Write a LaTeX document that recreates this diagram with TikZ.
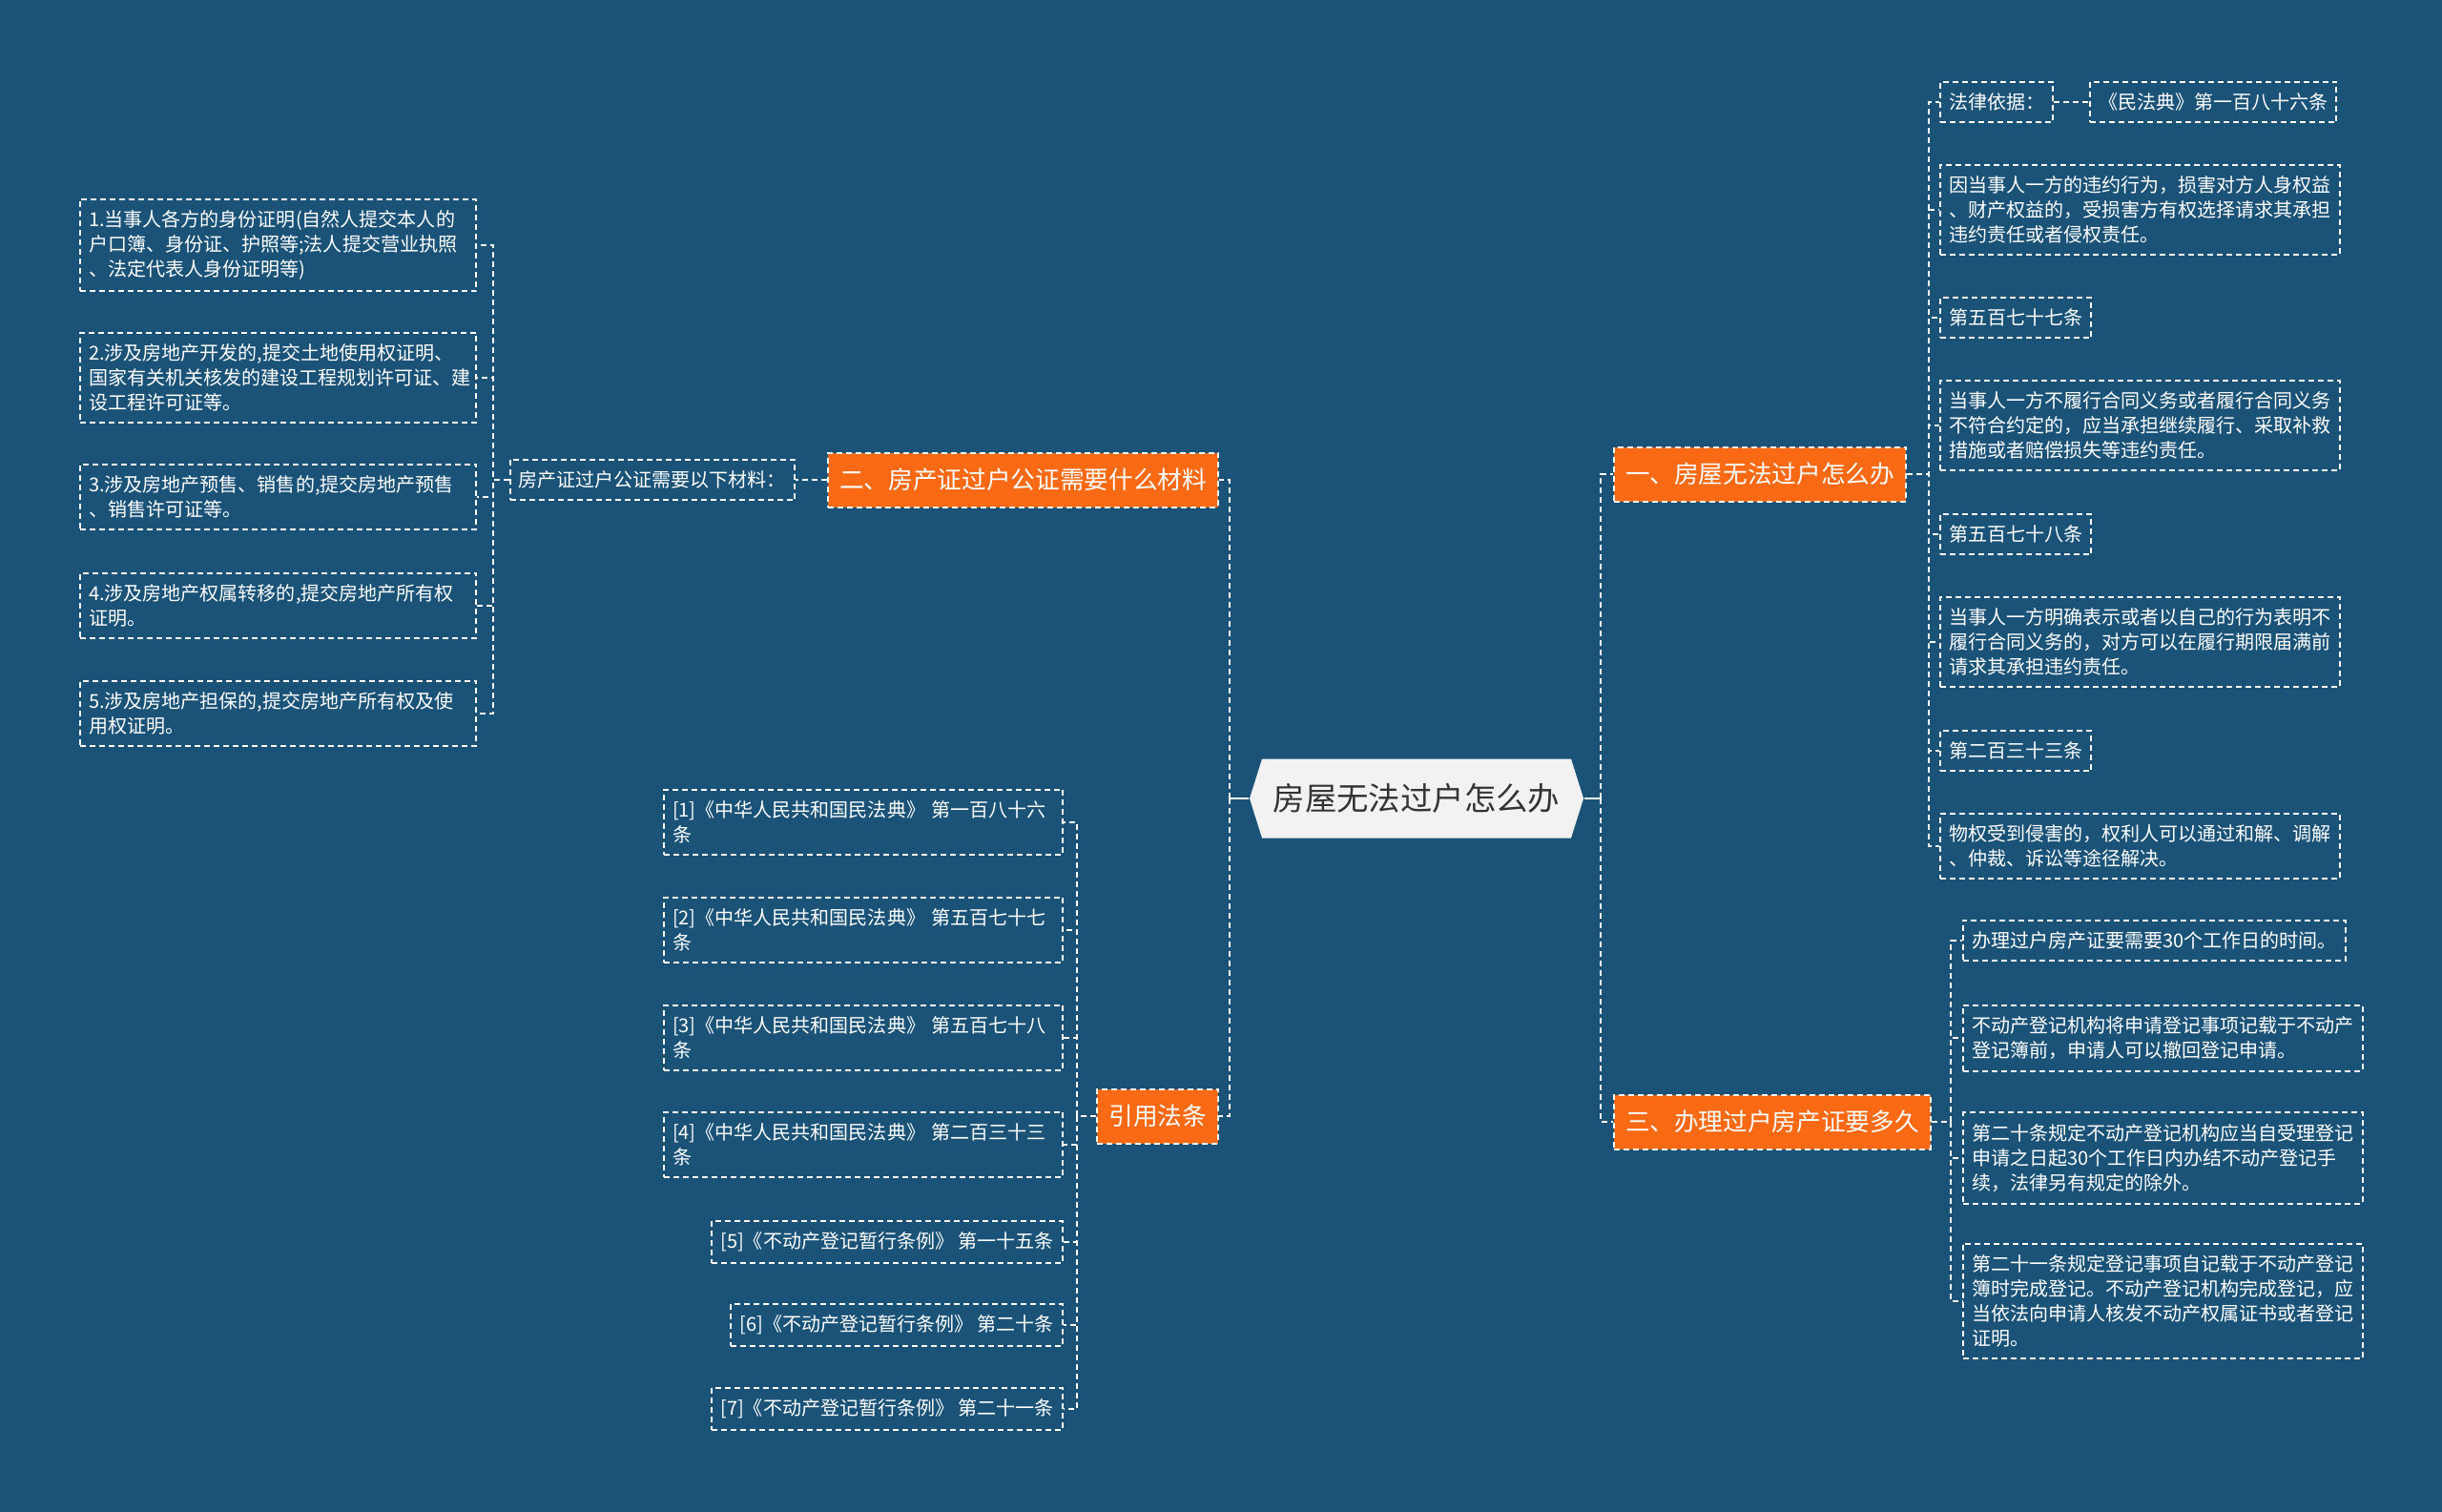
\documentclass[tikz,border=0pt]{standalone}
\usepackage{fontspec}
\setmainfont{Noto Sans CJK SC}
\usetikzlibrary{positioning,shapes.symbols}
\definecolor{mapbg}{RGB}{27,83,120}
\definecolor{maporange}{RGB}{250,105,20}
\definecolor{rootfill}{RGB}{242,242,242}
\definecolor{roottext}{RGB}{51,51,51}
\newcommand{\leaffont}{\fontsize{5.7pt}{7.4pt}\selectfont}
\newcommand{\branchfont}{\fontsize{7.3pt}{9pt}\selectfont}
\newcommand{\rootfont}{\fontsize{9.5pt}{11pt}\selectfont}

\begin{document}
\begin{tikzpicture}[
    leaf/.style={draw=white,line width=0.02cm,dash pattern=on 0.06cm off 0.04cm,text=white,font=\leaffont,align=left,inner xsep=0.09cm,inner ysep=0.12cm},
    wideleaf/.style={leaf,text width=3.97cm},
    branch/.style={draw=white,fill=maporange,line width=0.02cm,dash pattern=on 0.06cm off 0.04cm,text=white,font=\branchfont,inner xsep=0.12cm,minimum height=0.57cm},
    link/.style={draw=white,line width=0.02cm,dash pattern=on 0.06cm off 0.04cm},
    stub/.style={draw=white,line width=0.02cm}]
    \fill[mapbg] (0,0) rectangle (25.6,-15.85);
    \useasboundingbox (0,0) rectangle (25.6,-15.85);
    % Root
    \node[signal,signal to=west and east,signal pointer angle=145,fill=rootfill,text=roottext,font=\rootfont,minimum width=3.4cm,minimum height=0.83cm] (root) at (14.85,-8.37) {房屋无法过户怎么办};
    % Branches
    \node[branch,anchor=west] (one)   at (16.91,-4.97)  {一、房屋无法过户怎么办};
    \node[branch,anchor=west] (three) at (16.91,-11.76) {三、办理过户房产证要多久};
    \node[branch,anchor=east] (two)   at (12.78,-5.03)  {二、房产证过户公证需要什么材料};
    \node[branch,anchor=east] (laws)  at (12.78,-11.70) {引用法条};
    % Branch one
    \node[leaf,anchor=west] (r1)  at (20.33,-1.07) {法律依据：};
    \node[leaf,anchor=west] (r1b) at (21.90,-1.07) {《民法典》第一百八十六条};
    \node[leaf,anchor=west] (r2)  at (20.33,-2.20) {因当事人一方的违约行为，损害对方人身权益\\、财产权益的，受损害方有权选择请求其承担\\违约责任或者侵权责任。};
    \node[leaf,anchor=west] (r3)  at (20.33,-3.33) {第五百七十七条};
    \node[leaf,anchor=west] (r4)  at (20.33,-4.46) {当事人一方不履行合同义务或者履行合同义务\\不符合约定的，应当承担继续履行、采取补救\\措施或者赔偿损失等违约责任。};
    \node[leaf,anchor=west] (r5)  at (20.33,-5.60) {第五百七十八条};
    \node[leaf,anchor=west] (r6)  at (20.33,-6.73) {当事人一方明确表示或者以自己的行为表明不\\履行合同义务的，对方可以在履行期限届满前\\请求其承担违约责任。};
    \node[leaf,anchor=west] (r7)  at (20.33,-7.87) {第二百三十三条};
    \node[leaf,anchor=west] (r8)  at (20.33,-8.87) {物权受到侵害的，权利人可以通过和解、调解\\、仲裁、诉讼等途径解决。};
    % Branch three
    \node[leaf,anchor=west] (t1) at (20.57,-9.86)  {办理过户房产证要需要30个工作日的时间。};
    \node[leaf,anchor=west] (t2) at (20.57,-10.88) {不动产登记机构将申请登记事项记载于不动产\\登记簿前，申请人可以撤回登记申请。};
    \node[leaf,anchor=west] (t3) at (20.57,-12.14) {第二十条规定不动产登记机构应当自受理登记\\申请之日起30个工作日内办结不动产登记手\\续，法律另有规定的除外。};
    \node[leaf,anchor=west] (t4) at (20.57,-13.64) {第二十一条规定登记事项自记载于不动产登记\\簿时完成登记。不动产登记机构完成登记，应\\当依法向申请人核发不动产权属证书或者登记\\证明。};
    % Branch two
    \node[leaf,anchor=east] (need) at (8.34,-5.03) {房产证过户公证需要以下材料：};
    \node[wideleaf,anchor=east] (m1) at (5.00,-2.57) {1.当事人各方的身份证明(自然人提交本人的\\户口簿、身份证、护照等;法人提交营业执照\\、法定代表人身份证明等)};
    \node[wideleaf,anchor=east] (m2) at (5.00,-3.96) {2.涉及房地产开发的,提交土地使用权证明、\\国家有关机关核发的建设工程规划许可证、建\\设工程许可证等。};
    \node[wideleaf,anchor=east] (m3) at (5.00,-5.21) {3.涉及房地产预售、销售的,提交房地产预售\\、销售许可证等。};
    \node[wideleaf,anchor=east] (m4) at (5.00,-6.35) {4.涉及房地产权属转移的,提交房地产所有权\\证明。};
    \node[wideleaf,anchor=east] (m5) at (5.00,-7.48) {5.涉及房地产担保的,提交房地产所有权及使\\用权证明。};
    % Cited laws
    \node[leaf,anchor=east,text width=4.0cm] (l1) at (11.15,-8.62)  {[1]《中华人民共和国民法典》 第一百八十六\\条};
    \node[leaf,anchor=east,text width=4.0cm] (l2) at (11.15,-9.75)  {[2]《中华人民共和国民法典》 第五百七十七\\条};
    \node[leaf,anchor=east,text width=4.0cm] (l3) at (11.15,-10.88) {[3]《中华人民共和国民法典》 第五百七十八\\条};
    \node[leaf,anchor=east,text width=4.0cm] (l4) at (11.15,-12.00) {[4]《中华人民共和国民法典》 第二百三十三\\条};
    \node[leaf,anchor=east] (l5) at (11.15,-13.02) {[5]《不动产登记暂行条例》 第一十五条};
    \node[leaf,anchor=east] (l6) at (11.15,-13.89) {[6]《不动产登记暂行条例》 第二十条};
    \node[leaf,anchor=east] (l7) at (11.15,-14.77) {[7]《不动产登记暂行条例》 第二十一条};
    % Root links
    \draw[stub] (root.west) -- ++(-0.20,0) coordinate (lbus);
    \draw[stub] (root.east) -- ++(0.17,0) coordinate (rbus);
    \foreach \b in {two,laws}{\draw[link] (lbus) |- (\b.east);}
    \foreach \b in {one,three}{\draw[link] (rbus) |- (\b.west);}
    % Leaf links
    \foreach \c in {r1,r2,r3,r4,r5,r6,r7,r8}{\draw[link] (one.east) -- ++(0.23,0) |- (\c.west);}
    \draw[link] (r1.east) -- (r1b.west);
    \foreach \c in {t1,t2,t3,t4}{\draw[link] (three.east) -- ++(0.20,0) |- (\c.west);}
    \draw[link] (two.west) -- (need.east);
    \foreach \c in {m1,m2,m3,m4,m5}{\draw[link] (need.west) -- ++(-0.17,0) |- (\c.east);}
    \foreach \c in {l1,l2,l3,l4,l5,l6,l7}{\draw[link] (laws.west) -- ++(-0.20,0) |- (\c.east);}
\end{tikzpicture}
\end{document}
